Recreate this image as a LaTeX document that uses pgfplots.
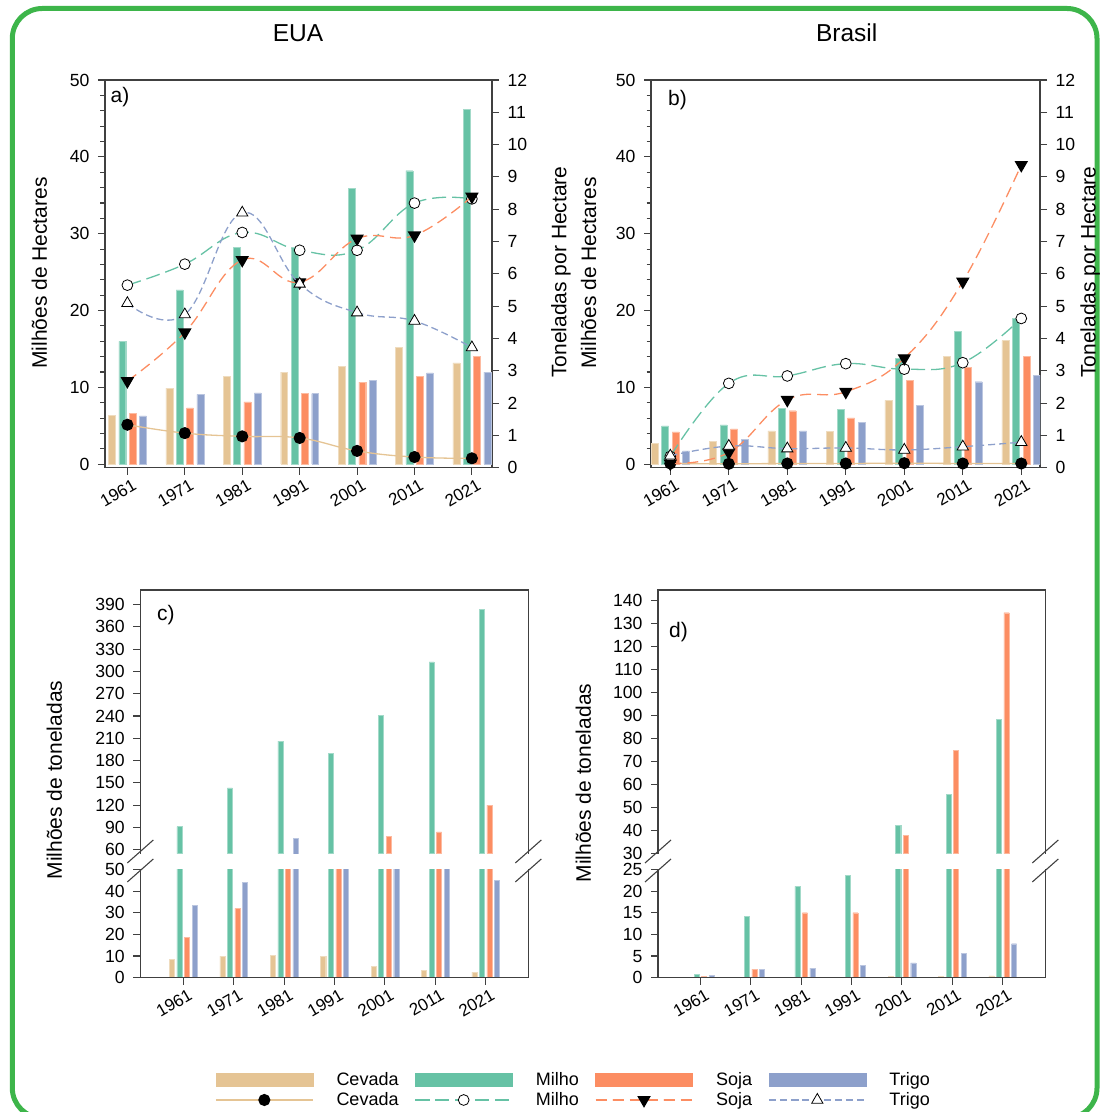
\documentclass[border=0pt]{standalone}
\usepackage{fontspec}
\setmainfont{Liberation Sans}
\usepackage{pgfplots}
\pgfplotsset{compat=1.18}
\definecolor{cev}{HTML}{E5C494}
\definecolor{mil}{HTML}{66C2A5}
\definecolor{soj}{HTML}{FC8D62}
\definecolor{tri}{HTML}{8DA0CB}
\definecolor{frm}{HTML}{3DB54A}
\definecolor{axc}{HTML}{404040}
\newcommand{\fs}[1]{\fontsize{#1}{#1}\selectfont}
\tikzset{
  lbase/.style={line width=1.3pt, smooth, tension=0.7},
  lcev/.style={lbase, cev, mark=*, mark size=5.4pt, mark options={solid, fill=black, draw=black}},
  lmil/.style={lbase, mil, dash pattern=on 14pt off 6pt, mark=*, mark size=5.4pt, mark options={solid, fill=white, draw=black, line width=0.8pt}},
  lsoj/.style={lbase, soj, dash pattern=on 11pt off 6pt, mark=triangle*, mark size=6.5pt, mark options={solid, fill=black, draw=black, rotate=180}},
  ltri/.style={lbase, tri, dash pattern=on 7pt off 4pt, mark=triangle*, mark size=6.5pt, mark options={solid, fill=white, draw=black, line width=0.8pt}},
}
\pgfplotsset{
  base/.style={scale only axis, anchor=south west,
    /pgf/number format/assume math mode=true,
    axis line style={axc, line width=1.2pt},
    tick style={axc, line width=1.1pt},
    tick align=outside, major tick length=7pt, minor tick length=4.5pt,
    yticklabel style={font=\fs{17.6}, xshift=-5pt},
    xticklabel style={font=\fs{17}, rotate=30, anchor=north east, inner sep=1pt, xshift=3pt, yshift=-4pt},
    xtick={0,...,6}, xticklabels={1961,1971,1981,1991,2001,2011,2021},
    xtick pos=bottom, ytick pos=left},
  rax/.style={base, hide x axis, axis line style={draw=none}, ymin=0, ymax=12, ytick={0,...,12},
    ytick pos=right, yticklabel pos=right, yticklabel style={anchor=west, xshift=10pt}, clip mode=individual},
  bA/.style={ybar, bar width=0.12, fill=#1, draw=#1!60!white, line width=0.3pt},
  bC/.style={ybar, bar width=0.1, fill=#1, draw=#1!60!white, line width=0.3pt},
  legB/.style={legend image code/.code={\fill[#1] (0pt,-6.5pt) rectangle (97pt,6.5pt);}},
  legL/.style={legend image code/.code={\draw[mark repeat=2,mark phase=2,#1] plot coordinates {(0pt,0pt)(48.5pt,0pt)(97pt,0pt)};}},
}
\begin{document}
\begin{tikzpicture}
\useasboundingbox (0pt,0pt) rectangle (1102pt,1112pt);
\clip (0pt,0pt) rectangle (1102pt,1112pt);
\draw[frm, line width=5pt, rounded corners=30pt] (12.3pt,-6pt) rectangle (1097pt,1103.5pt);

% ---------------- Panel a ----------------
\begin{axis}[base, at={(105pt,644.3pt)}, width=387pt, height=387.7pt,
  xmin=-0.39, xmax=6.35, ymin=-0.45, ymax=50, ytick={0,10,...,50}, minor y tick num=4]
\addplot[bA=cev, bar shift=-0.27] coordinates {(0,6.4)(1,9.9)(2,11.4)(3,12.0)(4,12.7)(5,15.2)(6,13.2)};
\addplot[bA=mil, bar shift=-0.09] coordinates {(0,16.0)(1,22.7)(2,28.2)(3,28.2)(4,35.9)(5,38.2)(6,46.2)};
\addplot[bA=soj, bar shift=0.09] coordinates {(0,6.6)(1,7.35)(2,8.1)(3,9.2)(4,10.7)(5,11.4)(6,14.0)};
\addplot[bA=tri, bar shift=0.27] coordinates {(0,6.3)(1,9.1)(2,9.3)(3,9.2)(4,10.9)(5,11.9)(6,12.0)};
\end{axis}
\begin{axis}[rax, at={(105pt,644.3pt)}, width=387pt, height=387.7pt, xmin=-0.39, xmax=6.35]
\addplot[lcev] coordinates {(0,1.33)(1,1.07)(2,0.97)(3,0.92)(4,0.52)(5,0.33)(6,0.29)};
\addplot[lmil] coordinates {(0,5.65)(1,6.30)(2,7.28)(3,6.73)(4,6.73)(5,8.19)(6,8.32)};
\addplot[lsoj] coordinates {(0,2.68)(1,4.19)(2,6.43)(3,5.74)(4,7.09)(5,7.19)(6,8.39)};
\addplot[ltri] coordinates {(0,5.09)(1,4.74)(2,7.89)(3,5.69)(4,4.80)(5,4.54)(6,3.72)};
\end{axis}

% ---------------- Panel b ----------------
\begin{axis}[base, at={(651pt,644.3pt)}, width=389pt, height=387.7pt,
  xmin=-0.33, xmax=6.32, ymin=-0.45, ymax=50, ytick={0,10,...,50}, minor y tick num=4]
\addplot[bA=cev, bar shift=-0.27] coordinates {(0,2.74)(1,3.0)(2,4.35)(3,4.3)(4,8.3)(5,14.0)(6,16.1)};
\addplot[bA=mil, bar shift=-0.09] coordinates {(0,5.0)(1,5.13)(2,7.26)(3,7.13)(4,13.8)(5,17.26)(6,19.0)};
\addplot[bA=soj, bar shift=0.09] coordinates {(0,4.22)(1,4.6)(2,6.96)(3,6.04)(4,10.96)(5,12.65)(6,14.0)};
\addplot[bA=tri, bar shift=0.27] coordinates {(0,1.74)(1,3.2)(2,4.35)(3,5.48)(4,7.7)(5,10.74)(6,11.57)};
\end{axis}
\begin{axis}[rax, at={(651pt,644.3pt)}, width=389pt, height=387.7pt, xmin=-0.33, xmax=6.32]
\addplot[lcev] coordinates {(0,0.13)(1,0.12)(2,0.13)(3,0.13)(4,0.14)(5,0.13)(6,0.13)};
\addplot[lmil] coordinates {(0,0.35)(1,2.61)(2,2.84)(3,3.22)(4,3.05)(5,3.25)(6,4.62)};
\addplot[lsoj] coordinates {(0,0.13)(1,0.47)(2,2.10)(3,2.35)(4,3.39)(5,5.76)(6,9.37)};
\addplot[ltri] coordinates {(0,0.37)(1,0.67)(2,0.59)(3,0.61)(4,0.55)(5,0.65)(6,0.79)};
\end{axis}

% ---------------- Panel c ----------------
\begin{axis}[base, at={(140.3pt,134.3pt)}, width=388pt, height=108.3pt, axis line style={draw=none},
  xmin=-0.853, xmax=6.845, ymin=0, ymax=50, ytick={0,10,...,50}]
\addplot[bC=cev, bar shift=-0.225] coordinates {(0,8.6)(1,10.0)(2,10.3)(3,10.0)(4,5.4)(5,3.4)(6,2.6)};
\addplot[bC=mil, bar shift=-0.075] coordinates {(0,91.0)(1,143)(2,206)(3,189.7)(4,241)(5,312.8)(6,383.7)};
\addplot[bC=soj, bar shift=0.075] coordinates {(0,18.5)(1,32.0)(2,53)(3,53)(4,78)(5,84)(6,120)};
\addplot[bC=tri, bar shift=0.225] coordinates {(0,33.5)(1,44.0)(2,75.2)(3,53)(4,53)(5,53.5)(6,45)};
\end{axis}
\begin{axis}[base, at={(140.3pt,258.3pt)}, width=388pt, height=263.7pt, axis line style={draw=none},
  xmin=-0.853, xmax=6.845, ymin=54.5, ymax=409.7, ytick={60,90,...,390}, xtick=\empty]
\addplot[bC=mil, bar shift=-0.075] coordinates {(0,91.0)(1,143)(2,206)(3,189.7)(4,241)(5,312.8)(6,383.7)};
\addplot[bC=soj, bar shift=0.075] coordinates {(4,78)(5,84)(6,120)};
\addplot[bC=tri, bar shift=0.225] coordinates {(2,75.2)};
\end{axis}
\draw[axc, line width=1.2pt] (140.3pt,242.6pt) -- (140.3pt,134.3pt) -- (528.3pt,134.3pt) -- (528.3pt,242.6pt);
\draw[axc, line width=1.2pt] (140.3pt,258.3pt) -- (140.3pt,522pt) -- (528.3pt,522pt) -- (528.3pt,258.3pt);
\foreach \xx in {140.3,528.3}{
  \draw[axc, line width=1.1pt] (\xx pt-13pt,249pt) -- (\xx pt+13pt,272pt);
  \draw[axc, line width=1.1pt] (\xx pt-13pt,230pt) -- (\xx pt+13pt,253pt);
}

% ---------------- Panel d ----------------
\begin{axis}[base, at={(658pt,134.3pt)}, width=387.3pt, height=108.3pt, axis line style={draw=none},
  xmin=-0.84, xmax=6.845, ymin=0, ymax=25, ytick={0,5,...,25}]
\addplot[bC=cev, bar shift=-0.225] coordinates {(0,0)(1,0)(2,0)(3,0)(4,0.25)(5,0.3)(6,0.4)};
\addplot[bC=mil, bar shift=-0.075] coordinates {(0,0.85)(1,14.1)(2,21.1)(3,23.6)(4,42.2)(5,55.7)(6,88.4)};
\addplot[bC=soj, bar shift=0.075] coordinates {(0,0.3)(1,2.0)(2,15.0)(3,15.0)(4,38.1)(5,74.9)(6,134.8)};
\addplot[bC=tri, bar shift=0.225] coordinates {(0,0.55)(1,2.0)(2,2.2)(3,2.85)(4,3.4)(5,5.6)(6,7.85)};
\end{axis}
\begin{axis}[base, at={(658pt,258.3pt)}, width=387.3pt, height=263.7pt, axis line style={draw=none},
  xmin=-0.84, xmax=6.845, ymin=30, ymax=144.65, ytick={30,40,...,140}, xtick=\empty]
\addplot[bC=mil, bar shift=-0.075] coordinates {(4,42.2)(5,55.7)(6,88.4)};
\addplot[bC=soj, bar shift=0.075] coordinates {(4,38.1)(5,74.9)(6,134.8)};
\end{axis}
\draw[axc, line width=1.2pt] (658pt,242.6pt) -- (658pt,134.3pt) -- (1045.3pt,134.3pt) -- (1045.3pt,242.6pt);
\draw[axc, line width=1.2pt] (658pt,258.3pt) -- (658pt,522pt) -- (1045.3pt,522pt) -- (1045.3pt,258.3pt);
\foreach \xx in {658,1045.3}{
  \draw[axc, line width=1.1pt] (\xx pt-13pt,249pt) -- (\xx pt+13pt,272pt);
  \draw[axc, line width=1.1pt] (\xx pt-13pt,230pt) -- (\xx pt+13pt,253pt);
}

% ---------------- Texts ----------------
\node[font=\fs{24.5}] at (298pt,1079pt) {EUA};
\node[font=\fs{24.5}] at (846.7pt,1079pt) {Brasil};
\node[font=\fs{21}, rotate=90] at (39.3pt,839pt) {Milhões de Hectares};
\node[font=\fs{21}, rotate=90] at (561pt,840pt) {Toneladas por Hectare};
\node[font=\fs{21}, rotate=90] at (588.7pt,839pt) {Milhões de Hectares};
\node[font=\fs{21}, rotate=90] at (1090.3pt,840pt) {Toneladas por Hectare};
\node[font=\fs{21}, rotate=90] at (54.4pt,332pt) {Milhões de toneladas};
\node[font=\fs{21}, rotate=90] at (583.4pt,329pt) {Milhões de toneladas};
\node[font=\fs{21}, anchor=west, inner sep=0pt] at (110.5pt,1015pt) {a)};
\node[font=\fs{21}, anchor=west, inner sep=0pt] at (668pt,1012pt) {b)};
\node[font=\fs{21}, anchor=west, inner sep=0pt] at (157pt,497pt) {c)};
\node[font=\fs{21}, anchor=west, inner sep=0pt] at (669pt,480.3pt) {d)};

% ---------------- Legend ----------------
\begin{axis}[at={(0pt,0pt)}, anchor=south west, scale only axis, width=1102pt, height=1112pt,
  hide axis, xmin=0, xmax=1, ymin=0, ymax=1, legend columns=4, legend cell align=left,
  legend style={at={(0.1951,0.0198)}, anchor=west, draw=none, fill=none, inner sep=0pt,
    font=\fs{18}, row sep=3.5pt, nodes={inner sep=1pt},
    /tikz/every odd column/.append style={column sep=22pt},
    /tikz/every even column/.append style={column sep=15pt}}]
\addlegendimage{legB=cev}\addlegendentry{Cevada}
\addlegendimage{legB=mil}\addlegendentry{Milho}
\addlegendimage{legB=soj}\addlegendentry{Soja}
\addlegendimage{legB=tri}\addlegendentry{Trigo}
\addlegendimage{legL=lcev}\addlegendentry{Cevada}
\addlegendimage{legL=lmil}\addlegendentry{Milho}
\addlegendimage{legL=lsoj}\addlegendentry{Soja}
\addlegendimage{legL=ltri}\addlegendentry{Trigo}
\end{axis}
\end{tikzpicture}
\end{document}
